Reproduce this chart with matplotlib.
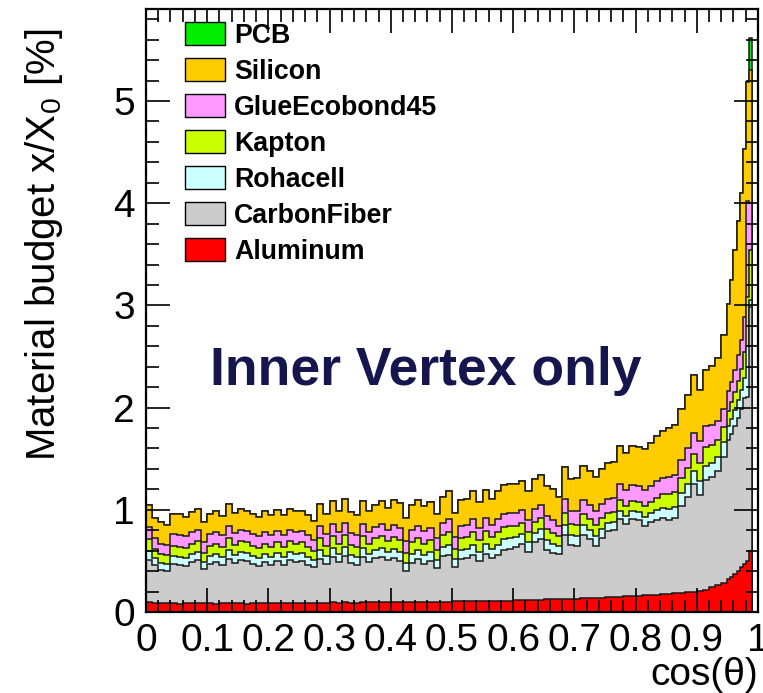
import numpy as np
import matplotlib
matplotlib.use("Agg")
import matplotlib.pyplot as plt
from matplotlib.patches import Patch

plt.rcParams['font.family'] = ['Liberation Sans', 'DejaVu Sans']
plt.rcParams['mathtext.fontset'] = 'custom'
plt.rcParams['mathtext.rm'] = 'Liberation Sans'
plt.rcParams['mathtext.it'] = 'Liberation Sans:italic'

# bin edges: 0.01 wide up to 0.95, 0.005 wide afterwards
edges = np.concatenate([np.linspace(0.0, 0.95, 96), np.linspace(0.955, 1.0, 10)])

aluminum = [0.10,0.09,0.09,0.09,0.09,0.08,0.09,0.09,0.09,0.09, 0.09,0.08,0.09,0.09,0.09,0.09,0.08,0.09,0.09,0.09,
            0.09,0.09,0.09,0.09,0.09,0.09,0.09,0.09,0.09,0.09, 0.10,0.09,0.10,0.09,0.09,0.10,0.10,0.10,0.10,0.10,
            0.10,0.10,0.10,0.10,0.10,0.10,0.10,0.10,0.10,0.10, 0.11,0.11,0.11,0.11,0.11,0.11,0.11,0.11,0.11,0.11,
            0.12,0.12,0.12,0.12,0.12,0.13,0.13,0.13,0.13,0.13, 0.13,0.14,0.14,0.14,0.14,0.15,0.15,0.15,0.16,0.16,
            0.16,0.17,0.17,0.17,0.18,0.18,0.19,0.19,0.20,0.20, 0.21,0.22,0.24,0.26,0.28,
            0.32,0.34,0.37,0.40,0.44,0.47,0.50,0.60,0.00,0.00]
carbonfiber = [0.41,0.37,0.32,0.31,0.38,0.38,0.36,0.40,0.42,0.33, 0.38,0.41,0.37,0.43,0.39,0.42,0.42,0.38,0.36,0.40,
               0.37,0.41,0.37,0.42,0.40,0.41,0.37,0.35,0.43,0.38, 0.44,0.40,0.45,0.39,0.37,0.44,0.39,0.43,0.44,0.41,
               0.43,0.40,0.30,0.38,0.42,0.37,0.40,0.33,0.45,0.46, 0.33,0.41,0.42,0.45,0.39,0.46,0.42,0.45,0.50,0.51,
               0.52,0.55,0.47,0.56,0.59,0.48,0.45,0.44,0.62,0.53, 0.52,0.61,0.57,0.51,0.58,0.64,0.65,0.76,0.70,0.75,
               0.74,0.67,0.71,0.73,0.74,0.72,0.73,0.85,0.93,1.05, 0.93,1.07,1.08,1.12,1.24,
               1.36,1.40,1.45,1.50,1.55,1.62,1.60,2.38,0.00,0.00]
rohacell = [0.09,0.07,0.07,0.07,0.08,0.08,0.08,0.08,0.08,0.07, 0.08,0.08,0.08,0.09,0.08,0.08,0.08,0.08,0.08,0.08,
            0.08,0.08,0.08,0.08,0.08,0.08,0.08,0.07,0.09,0.08, 0.09,0.08,0.09,0.08,0.08,0.09,0.08,0.08,0.09,0.08,
            0.09,0.09,0.08,0.09,0.09,0.09,0.09,0.08,0.09,0.10, 0.08,0.09,0.09,0.10,0.09,0.10,0.09,0.10,0.10,0.10,
            0.09,0.09,0.09,0.09,0.10,0.09,0.09,0.08,0.10,0.09, 0.09,0.10,0.09,0.09,0.09,0.08,0.08,0.08,0.08,0.08,
            0.08,0.09,0.09,0.10,0.10,0.11,0.11,0.12,0.12,0.13, 0.14,0.14,0.14,0.14,0.14,
            0.14,0.15,0.16,0.17,0.18,0.20,0.50,0.07,0.00,0.00]
kapton = [0.11,0.09,0.09,0.09,0.10,0.10,0.10,0.10,0.10,0.09, 0.10,0.10,0.10,0.11,0.10,0.10,0.10,0.10,0.10,0.10,
          0.10,0.10,0.10,0.10,0.10,0.10,0.10,0.09,0.11,0.10, 0.11,0.10,0.11,0.10,0.10,0.11,0.10,0.11,0.11,0.10,
          0.11,0.11,0.10,0.11,0.11,0.11,0.11,0.10,0.11,0.12, 0.10,0.11,0.11,0.12,0.11,0.12,0.11,0.12,0.12,0.12,
          0.11,0.11,0.10,0.11,0.11,0.11,0.10,0.09,0.12,0.11, 0.11,0.11,0.11,0.11,0.11,0.10,0.10,0.11,0.10,0.10,
          0.10,0.11,0.11,0.12,0.13,0.14,0.14,0.15,0.16,0.17, 0.18,0.18,0.17,0.16,0.15,
          0.15,0.16,0.17,0.19,0.21,0.25,0.48,0.49,0.00,0.00]
glue = [0.12,0.10,0.10,0.10,0.11,0.11,0.11,0.11,0.11,0.10, 0.11,0.11,0.11,0.12,0.11,0.11,0.11,0.11,0.11,0.11,
        0.11,0.11,0.11,0.11,0.11,0.11,0.11,0.10,0.12,0.11, 0.12,0.11,0.12,0.11,0.11,0.12,0.11,0.11,0.12,0.11,
        0.12,0.12,0.11,0.12,0.12,0.12,0.12,0.11,0.12,0.13, 0.11,0.12,0.12,0.13,0.12,0.13,0.12,0.13,0.13,0.13,
        0.13,0.13,0.12,0.13,0.13,0.13,0.13,0.10,0.14,0.13, 0.14,0.14,0.14,0.14,0.14,0.14,0.14,0.15,0.15,0.15,
        0.15,0.15,0.15,0.16,0.16,0.17,0.17,0.18,0.19,0.20, 0.21,0.21,0.20,0.19,0.18,
        0.19,0.20,0.22,0.25,0.28,0.35,0.94,0.46,0.00,0.00]
silicon = [0.22,0.20,0.21,0.19,0.20,0.21,0.19,0.20,0.21,0.20, 0.20,0.21,0.19,0.22,0.20,0.21,0.20,0.20,0.19,0.21,
           0.20,0.21,0.20,0.21,0.21,0.20,0.20,0.19,0.22,0.20, 0.23,0.21,0.24,0.21,0.20,0.23,0.21,0.22,0.23,0.22,
           0.25,0.25,0.23,0.25,0.26,0.25,0.26,0.24,0.26,0.27, 0.24,0.26,0.26,0.27,0.26,0.27,0.26,0.27,0.28,0.28,
           0.28,0.28,0.28,0.29,0.29,0.29,0.30,0.29,0.31,0.31, 0.32,0.33,0.33,0.33,0.34,0.35,0.35,0.37,0.37,0.38,
           0.38,0.40,0.42,0.44,0.46,0.48,0.49,0.50,0.52,0.57, 0.50,0.55,0.58,0.62,0.72,
           0.85,1.00,1.17,1.32,1.44,1.64,1.17,1.30,0.00,0.00]
pcb = [0.0]*95 + [0.00,0.00,0.00,0.00,0.00,0.00,0.00,0.32,0.00,0.00]

materials = ["Aluminum", "CarbonFiber", "Rohacell", "Kapton", "GlueEcobond45", "Silicon", "PCB"]
values = [aluminum, carbonfiber, rohacell, kapton, glue, silicon, pcb]
colors = ["#ff0000", "#cccccc", "#ccffff", "#ccff00", "#ff99ff", "#ffcc00", "#00ee00"]

fig = plt.figure(figsize=(7.63, 6.93), dpi=100)
ax = fig.add_axes([0.1913, 0.1169, 0.8021, 0.8701])

cum = np.cumsum(np.array(values, dtype=float), axis=0)
for i in range(len(materials) - 1, -1, -1):
    ax.stairs(cum[i], edges, baseline=0, fill=True, facecolor=colors[i], edgecolor='none', lw=0)
    ax.stairs(cum[i], edges, baseline=0, fill=False, color='#1a1a1a', lw=1.1)

ax.set_xlim(0, 1)
ax.set_ylim(0, 5.9)
ax.set_xticks(np.arange(0, 1.01, 0.1))
ax.set_xticklabels(["0", "0.1", "0.2", "0.3", "0.4", "0.5", "0.6", "0.7", "0.8", "0.9", "1"])
ax.set_xticks(np.arange(0, 1.001, 0.02), minor=True)
ax.set_yticks([0, 1, 2, 3, 4, 5])
ax.set_yticks(np.arange(0, 5.9, 0.2), minor=True)
ax.tick_params(which='both', direction='in', top=True, right=True, width=1.2, color='black')
ax.tick_params(which='major', length=17)
ax.tick_params(which='minor', length=9)
ax.tick_params(axis='x', which='major', labelsize=28, pad=8)
ax.tick_params(axis='y', which='major', labelsize=28, pad=8)
for sp in ax.spines.values():
    sp.set_linewidth(1.6)

ax.set_xlabel("cos(θ)", fontsize=28, ha='right')
ax.xaxis.set_label_coords(1.0, -0.074)
ax.set_ylabel("Material budget x/X$_0$ [%]", fontsize=29, ha='right')
ax.yaxis.set_label_coords(-0.132, 0.968)

handles = [Patch(facecolor=colors[i], edgecolor='black', lw=1.0) for i in range(len(materials) - 1, -1, -1)]
labels = [materials[i] for i in range(len(materials) - 1, -1, -1)]
ax.legend(handles, labels, loc='upper left', bbox_to_anchor=(0.064, 0.978), frameon=False,
          prop={'weight': 'bold', 'size': 19.3}, handlelength=1.49, handleheight=0.93,
          handletextpad=0.34, labelspacing=0.35, borderpad=0, borderaxespad=0)

ax.text(0.4575, 0.3765, "Inner Vertex only", transform=ax.transAxes, ha='center', va='baseline',
        fontsize=38.5, fontweight='bold', color='#16164f')

fig.savefig("out.png", dpi=100)
